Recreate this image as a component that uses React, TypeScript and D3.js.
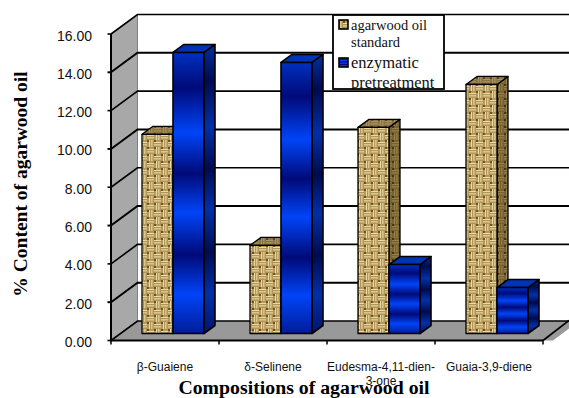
import React from "react";
import * as d3 from "d3";

const categories = ["β-Guaiene", "δ-Selinene", "Eudesma-4,11-dien-|3-one", "Guaia-3,9-diene"];
const standardValues = [10.4, 4.6, 10.76, 13.0];
const enzymaticValues = [14.67, 14.15, 3.6, 2.4];
const yTicks = [0, 2, 4, 6, 8, 10, 12, 14, 16];
const blueStops: [number, string][] = [
  [0, "#0030C0"], [0.125, "#000A78"], [0.285, "#0044F8"], [0.43, "#000A78"],
  [0.57, "#0044F8"], [0.72, "#000A78"], [0.86, "#0044F8"], [1, "#001C98"],
];
const blueSideStops: [number, string][] = [
  [0, "#0030A0"], [0.125, "#000A50"], [0.285, "#0030A8"], [0.43, "#000A50"],
  [0.57, "#0030A8"], [0.72, "#000A50"], [0.86, "#0030A8"], [1, "#001470"],
];

const W = 569, H = 398;
const left = 111, right = 543, y0 = 340.5, y16 = 34;
const depthX = 26.5, depthY = 19.5;
const barW = 31, barGap = 21.5, barDX = 9.5, barDY = 7, barSideX = 11, barSideY = 8;

const x = d3.scaleBand<string>().domain(categories).range([left, right]);
const y = d3.scaleLinear().domain([0, 16]).range([y0, y16]);
const poly = (pts: [number, number][]) => d3.line()(pts) + "Z";

function Weave({ id, base, light, dark }: { id: string; base: string; light: string; dark: string }) {
  const cells = d3.range(0, 2).flatMap((i) => d3.range(0, 2).map((j) => [i, j]));
  return (
    <pattern id={id} width={14} height={14} patternUnits="userSpaceOnUse">
      <rect width={14} height={14} fill={base} />
      {cells.map(([i, j]) => {
        const cx = i * 7, cy = j * 7;
        const horiz = (i + j) % 2 === 0;
        return (
          <g key={`${i}-${j}`}>
            {horiz ? (
              <>
                <rect x={cx} y={cy + 1.9} width={7} height={1.1} fill={light} />
                <rect x={cx} y={cy + 4.3} width={7} height={1.1} fill={light} />
              </>
            ) : (
              <>
                <rect x={cx + 1.9} y={cy} width={1.1} height={7} fill={light} />
                <rect x={cx + 4.3} y={cy} width={1.1} height={7} fill={light} />
              </>
            )}
            <rect x={cx} y={cy} width={2} height={2} fill={dark} opacity={0.85} />
          </g>
        );
      })}
    </pattern>
  );
}

function Grad({ id, stops }: { id: string; stops: [number, string][] }) {
  return (
    <linearGradient id={id} x1={0} y1={0} x2={0} y2={1}>
      {stops.map(([o, c]) => (
        <stop key={o} offset={o} stopColor={c} />
      ))}
    </linearGradient>
  );
}

function Bar({ bx, v, front, side, top, sw }: { bx: number; v: number; front: string; side: string; top: string; sw: number }) {
  const yb = y(0) - barDY;
  const yt = y(v) - barDY;
  const fx = bx + barW;
  return (
    <g stroke="#000" strokeWidth={sw} strokeLinejoin="round">
      <path d={poly([[fx, yt], [fx + barSideX, yt - barSideY], [fx + barSideX, yb - barSideY], [fx, yb]])} fill={side} />
      <path d={poly([[bx, yt], [bx + barSideX, yt - barSideY], [fx + barSideX, yt - barSideY], [fx, yt]])} fill={top} />
      <rect x={bx} y={yt} width={barW} height={yb - yt} fill={front} />
    </g>
  );
}

export default function App() {
  return (
    <svg width={W} height={H} viewBox={`0 0 ${W} ${H}`} style={{ position: "absolute", left: 0, top: 0, background: "#fff" }}>
      <defs>
        <Weave id="tan" base="#B39457" light="#EADBA6" dark="#5E4618" />
        <Weave id="tanDark" base="#75602F" light="#98824E" dark="#3E2E10" />
        <Weave id="tanTop" base="#8A7244" light="#AC9462" dark="#4E3C18" />
        <Grad id="blue" stops={blueStops} />
        <Grad id="blueSide" stops={blueSideStops} />
        <clipPath id="legendClip">
          <rect x={333} y={15} width={111} height={74} />
        </clipPath>
      </defs>

      {/* back wall and floor */}
      <path d={poly([[left, y0], [left + depthX, y0 - depthY], [W + 10, y0 - depthY], [right + 10, y0 + 0]])} fill="#999" />
      <path d={poly([[left, y16], [left + depthX, y16 - depthY], [left + depthX, y0 - depthY], [left, y0]])} fill="#A8A8A8" stroke="#808080" strokeWidth={1} />

      {yTicks.map((t, i) => (
        <g key={t} stroke="#000" strokeWidth={i % 2 === 1 ? 2 : 1.6} fill="none">
          <path d={`M${left},${y(t)}L${left + depthX},${y(t) - depthY}L${W},${y(t) - depthY}`} />
          <path d={`M${left - 3.5},${y(t)}H${left}`} />
        </g>
      ))}
      <path d={`M${left},${y16}V${y0}H${right}`} stroke="#000" strokeWidth={2} fill="none" />
      <path d={`M${right},${y0}L${W},${y0 - depthY - 0.5}`} stroke="#000" strokeWidth={1.6} fill="none" />
      {categories.map((c) => (
        <path key={c} d={`M${x(c)},${y0}v4`} stroke="#000" strokeWidth={1.5} />
      ))}
      <path d={`M${right},${y0}v4`} stroke="#000" strokeWidth={1.5} />

      {/* bars */}
      {categories.map((c, i) => {
        const bx = (x(c) as number) + barGap + barDX;
        return (
          <g key={c}>
            <Bar bx={bx} v={standardValues[i]} front="url(#tan)" side="url(#tanDark)" top="url(#tanTop)" sw={1.3} />
            <Bar bx={bx + barW} v={enzymaticValues[i]} front="url(#blue)" side="url(#blueSide)" top="#0034B4" sw={1.6} />
          </g>
        );
      })}

      {/* y tick labels */}
      {yTicks.map((t) => (
        <text key={t} x={92} y={y(t) + 6.5} textAnchor="end" fontFamily="Liberation Sans" fontSize={14} fill="#111">
          {t.toFixed(2)}
        </text>
      ))}

      {/* category labels */}
      {categories.map((c) => (
        <text key={c} textAnchor="middle" fontFamily="Liberation Sans" fontSize={12} fill="#111">
          {c.split("|").map((s, k) => (
            <tspan key={s} x={(x(c) as number) + x.bandwidth() / 2} y={371 + k * 14}>
              {s}
            </tspan>
          ))}
        </text>
      ))}

      {/* axis titles */}
      <text x={304} y={394} textAnchor="middle" fontFamily="Liberation Serif" fontWeight="bold" fontSize={19.8} fill="#000">
        Compositions of agarwood oil
      </text>
      <text transform="translate(27,184) rotate(-90)" textAnchor="middle" fontFamily="Liberation Serif" fontWeight="bold" fontSize={19.5} fill="#000">
        % Content of agarwood oil
      </text>

      {/* legend */}
      <rect x={333} y={15} width={111} height={74} fill="#fff" />
      <rect x={339} y={20} width={9} height={9} fill="url(#tan)" stroke="#000" strokeWidth={1.6} />
      <rect x={339} y={58} width={9} height={9} fill="url(#blue)" stroke="#000" strokeWidth={1.6} />
      <g fontFamily="Liberation Serif" fill="#111" clipPath="url(#legendClip)">
        <text x={351} y={30} fontSize={14.5}>agarwood oil</text>
        <text x={351} y={47} fontSize={14.5}>standard</text>
        <text x={351} y={68} fontSize={16.5}>enzymatic</text>
        <text x={351} y={88} fontSize={16.5}>pretreatment</text>
      </g>
      <rect x={333} y={15} width={111} height={74} fill="none" stroke="#000" strokeWidth={1.8} />
    </svg>
  );
}
